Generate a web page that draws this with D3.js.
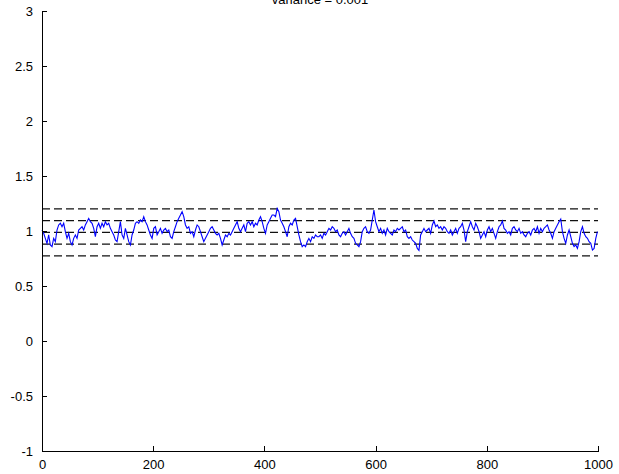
<!DOCTYPE html>
<html>
<head>
<meta charset="utf-8">
<script src="https://cdn.jsdelivr.net/npm/d3@7"></script>
<style>
  html, body { margin: 0; padding: 0; background: #fff; }
  text { font-family: "Liberation Sans Narrow", "Arial Narrow", Arial, sans-serif; }
</style>
</head>
<body>
<svg id="chart" width="619" height="474"></svg>
<script>
// ---- data ----
const titleText = "variance = 0.001";
const xStep = 3; // sample spacing along x
const signalValues = [
  // 0 .. 195
  1.009,0.979,0.933,0.888,0.964,0.873,0.858,0.933,0.903,1.009,
  1.055,1.070,1.039,1.070,0.994,0.933,0.979,0.903,0.873,0.933,
  0.964,0.933,1.009,1.024,1.039,1.009,1.055,1.085,1.115,1.085,
  1.070,1.024,0.948,1.039,1.070,1.024,1.070,1.039,1.085,1.055,
  1.070,1.024,0.994,0.964,0.918,0.903,0.994,1.085,0.964,0.933,
  1.024,0.964,0.903,0.873,0.964,1.009,1.070,1.085,1.070,1.100,
  1.085,1.130,1.085,1.055,1.009,0.964,
  // 198 .. 393
  0.933,1.024,1.039,0.964,0.994,1.024,0.979,1.009,1.024,0.994,
  1.009,0.948,0.933,0.994,1.039,1.085,1.115,1.145,1.176,1.130,
  1.055,1.024,1.039,0.979,0.994,0.948,1.009,1.055,1.039,0.994,
  0.948,0.903,0.933,0.964,0.994,1.024,1.039,1.009,0.979,0.964,
  0.979,0.933,0.873,0.918,0.964,0.948,0.979,0.964,0.994,1.024,
  1.055,1.085,1.024,0.994,1.024,1.055,0.994,1.070,1.085,1.055,
  1.085,1.039,1.070,1.055,1.100,1.130,
  // 396 .. 591
  1.085,1.024,0.979,1.055,1.085,1.115,1.145,1.145,1.130,1.206,
  1.176,1.100,1.070,1.039,0.994,0.948,1.039,1.070,1.055,1.100,
  1.115,1.039,0.964,0.903,0.858,0.873,0.858,0.903,0.933,0.903,
  0.948,0.933,0.964,0.948,0.948,0.964,0.933,0.979,0.964,0.994,
  1.024,1.009,1.039,1.024,0.994,1.009,0.964,0.948,0.979,0.994,
  0.964,0.994,1.024,0.979,0.948,0.933,0.888,0.873,0.858,0.903,
  0.994,1.024,1.039,0.994,0.979,1.009,
  // 594 .. 789
  1.100,1.191,1.085,1.039,0.994,1.024,0.979,1.009,0.964,1.024,
  0.994,0.979,0.964,1.009,0.994,1.024,1.009,1.024,1.039,0.994,
  1.009,0.948,0.933,0.948,0.918,0.903,0.888,0.842,0.824,0.964,
  0.994,1.024,0.994,1.009,1.024,0.979,1.055,1.091,1.039,1.055,
  1.024,1.039,1.009,1.039,1.024,0.994,0.979,1.009,0.964,0.994,
  1.024,0.979,1.024,1.039,1.070,1.009,0.903,0.994,1.039,1.085,
  1.039,1.009,1.070,1.039,0.994,0.933,
  // 792 .. 999
  0.964,0.994,0.948,1.009,1.039,0.994,1.024,0.979,0.933,0.994,
  1.039,1.055,1.091,1.024,1.009,0.979,0.994,0.964,1.024,1.039,
  1.009,0.994,1.024,0.979,0.994,0.964,0.948,0.979,0.994,0.964,
  1.009,1.024,0.994,1.039,0.979,1.024,0.994,1.024,1.039,1.055,
  1.009,0.979,0.933,0.994,1.024,1.055,1.085,1.109,0.994,0.933,
  0.888,0.964,1.009,0.948,0.888,0.858,0.873,0.842,0.903,0.994,
  1.039,0.979,0.948,0.933,0.903,0.888,0.827,0.842,0.933,0.994
];
const bandLevels = [1.202, 1.095, 0.988, 0.881, 0.774];
const xDomain = [0, 1000];
const yDomain = [-1, 3];
const xTicks = [0, 200, 400, 600, 800, 1000];
const yTicks = [-1, -0.5, 0, 0.5, 1, 1.5, 2, 2.5, 3];

// ---- layout ----
const svg = d3.select("#chart");
const mLeft = 42, mRight = 598, mTop = 11, mBottom = 451;
const fontStack = "'Liberation Sans Narrow', 'Arial Narrow', Arial, sans-serif";
const x = d3.scaleLinear().domain(xDomain).range([mLeft, mRight]);
const y = d3.scaleLinear().domain(yDomain).range([mBottom, mTop]);

// title (partly clipped at top, like the reference)
svg.append("text")
  .attr("x", (mLeft + mRight) / 2).attr("y", 4)
  .attr("text-anchor", "middle")
  .attr("font-size", 13).attr("fill", "#000")
  .attr("font-family", fontStack)
  .text(titleText);

// dashed band lines
svg.append("g").selectAll("line").data(bandLevels).join("line")
  .attr("x1", x(xDomain[0])).attr("x2", x(xDomain[1]))
  .attr("y1", d => y(d)).attr("y2", d => y(d))
  .attr("stroke", "#111").attr("stroke-width", 1.2)
  .attr("stroke-dasharray", "8,4");

// signal line
const pts = signalValues.map((v, i) => [i * xStep, v]);
svg.append("path")
  .datum(pts)
  .attr("fill", "none")
  .attr("stroke", "#0000ff")
  .attr("stroke-width", 1.1)
  .attr("d", d3.line().x(d => x(d[0])).y(d => y(d[1])));

// axes (ticks pointing inward, MATLAB style)
const xAxis = d3.axisBottom(x).tickValues(xTicks).tickSizeInner(-5).tickSizeOuter(0).tickPadding(9)
  .tickFormat(d3.format("d"));
const gx = svg.append("g").attr("transform", `translate(0,${mBottom})`).call(xAxis);
const yAxis = d3.axisLeft(y).tickValues(yTicks).tickSizeInner(-5).tickSizeOuter(0).tickPadding(9)
  .tickFormat(d => String(d));
const gy = svg.append("g").attr("transform", `translate(${mLeft},0)`).call(yAxis);

[gx, gy].forEach(g => {
  g.selectAll("path.domain").attr("stroke", "#000").attr("stroke-width", 1).attr("shape-rendering", "crispEdges");
  g.selectAll(".tick line").attr("stroke", "#000").attr("shape-rendering", "crispEdges");
  g.selectAll("text").attr("font-size", 13).attr("fill", "#000")
    .attr("font-family", fontStack);
});
</script>
</body>
</html>
